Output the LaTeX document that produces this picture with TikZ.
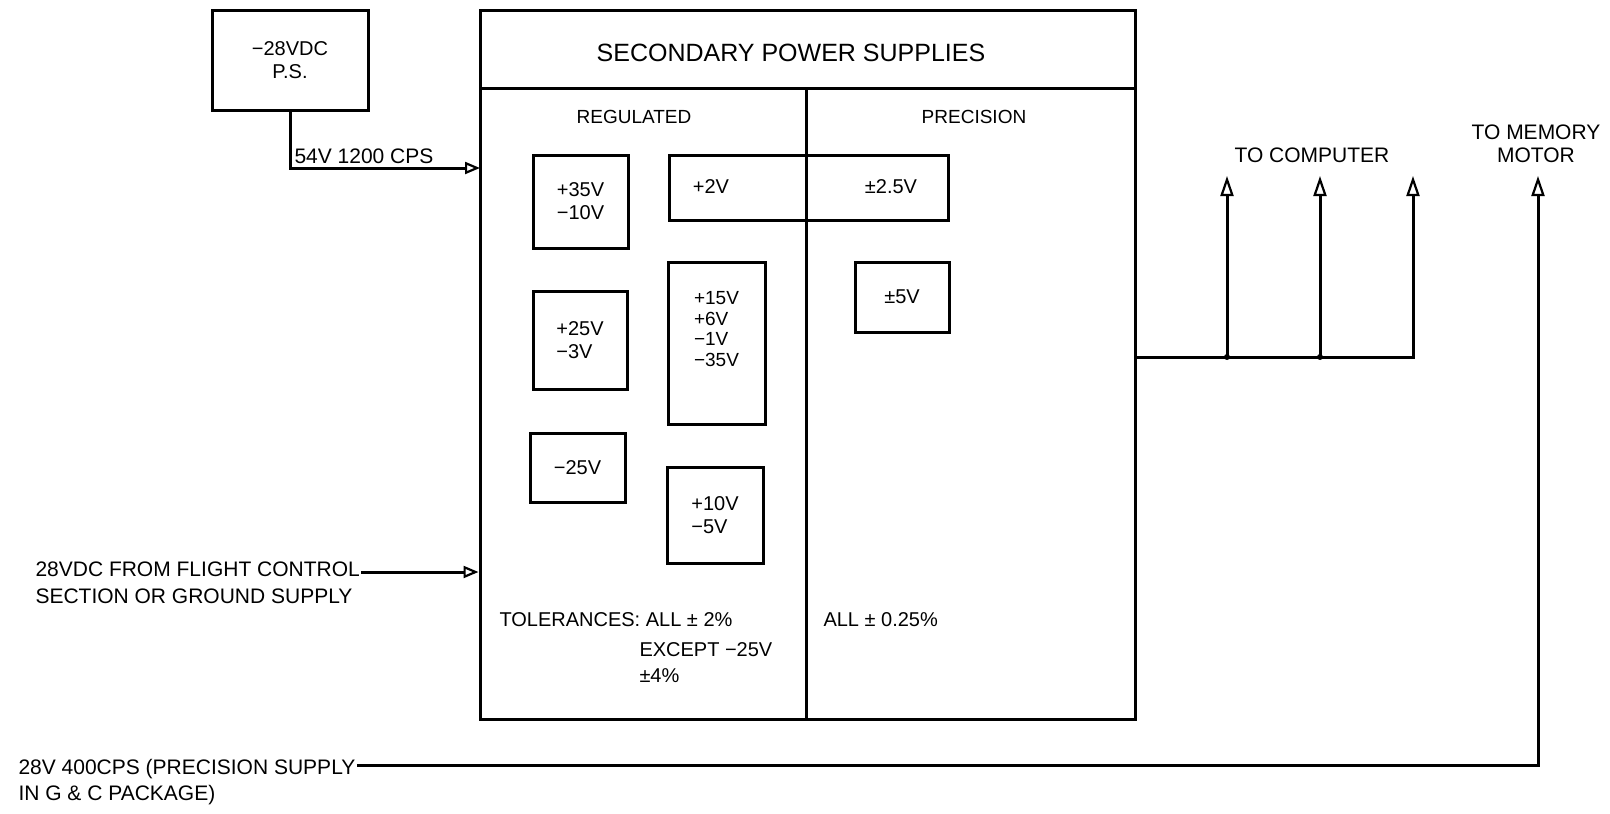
\documentclass[tikz,border=0pt]{standalone}
\usepackage{fontspec}
\setmainfont{Liberation Sans}
\usetikzlibrary{arrows.meta}
\begin{document}
\begin{tikzpicture}[x=1pt,y=-1pt,
  line width=3pt,
  box/.style={draw, line width=3pt, inner sep=0pt, align=left, font=\fontsize{20}{23}\selectfont},
  txt/.style={inner sep=0pt, font=\fontsize{20}{23}\selectfont},
  lbl/.style={inner sep=0pt, anchor=west, font=\fontsize{21}{21}\selectfont},
  arr/.style={-{Triangle[open,length=20pt,width=13pt,line width=2.2pt]}},
  arrs/.style={-{Triangle[open,length=15pt,width=12pt,line width=2.2pt]}}]
\useasboundingbox (0,0) rectangle (1610,814);
% main frame
\node[draw, inner sep=0pt, minimum width=655pt, minimum height=709pt] (main) at (807.5,364.5) {};
\draw (480,88) -- (1135,88);
\draw (806,88) -- (806,719);
\node[txt, font=\fontsize{25}{25}\selectfont] (title) at (791,53) {SECONDARY POWER SUPPLIES};
\node[txt, font=\fontsize{19}{19}\selectfont] (reg) at (634,117) {REGULATED};
\node[txt, font=\fontsize{19}{19}\selectfont] (prec) at (974,117) {PRECISION};
% supply boxes
\node[box, align=center, minimum width=156pt, minimum height=100pt] (ps) at (290,60) {−28VDC\\P.S.};
\node[box, minimum width=95pt, minimum height=93pt] (b35) at (580.5,201.5) {+35V\\−10V};
\node[box, minimum width=279pt, minimum height=65pt] (b2) at (808.5,187.5) {};
\node[txt] (t2v) at (711,187) {+2V};
\node[txt] (t25v) at (891,187) {±2.5V};
\node[box, minimum width=94pt, minimum height=70pt] (b5) at (902,297) {±5V};
\node[box, minimum width=94pt, minimum height=98pt] (b25) at (580,340) {+25V\\−3V};
\node[box, font=\fontsize{19}{20.5}\selectfont, minimum width=97pt, minimum height=162pt] (b15) at (716.5,343) {+15V\\+6V\\−1V\\−35V\\[8pt]};
\node[box, minimum width=95pt, minimum height=69pt] (bm25) at (577.5,467.5) {−25V};
\node[box, minimum width=96pt, minimum height=96pt] (b10) at (715,515) {+10V\\−5V};
% tolerances
\node[txt, anchor=west] (tol) at (498,620) {TOLERANCES: ALL ± 2\%};
\node[txt, anchor=west] (exc) at (638,650) {EXCEPT −25V};
\node[txt, anchor=west] (exc2) at (638,676) {±4\%};
\node[txt, anchor=west] (all) at (822,620) {ALL ± 0.25\%};
% inputs
\node[lbl] (l54) at (293,156) {54V 1200 CPS};
\coordinate (in1) at (480,168);
\draw[arrs] (ps.south) |- (in1);
\node[lbl] (l1) at (34,569) {28VDC FROM FLIGHT CONTROL};
\node[lbl] (l2) at (34,596) {SECTION OR GROUND SUPPLY};
\draw[arrs] ([yshift=-3pt]l1.east) -- ([yshift=-3pt]l1.east -| main.west);
\node[lbl] (l3) at (17,769) {28V 400CPS (PRECISION SUPPLY};
\node[lbl] (l4) at (17,795) {IN G \& C PACKAGE)};
% outputs
\coordinate (j1) at (1227,357);
\coordinate (j2) at (1320,357);
\coordinate (t1) at (1227,176);
\coordinate (t2) at (1320,176);
\coordinate (t3) at (1413,176);
\coordinate (tm) at (1538,176);
\draw[arr] (main.east |- j1) -| (t3);
\draw[arr] (j1) -- (t1);
\draw[arr] (j2) -- (t2);
\fill (j1) circle (3pt) (j2) circle (3pt);
\draw[arr] ([yshift=4pt]l3.east) -| (tm);
\node[lbl, anchor=center] (tc) at (1312,155) {TO COMPUTER};
\node[lbl, anchor=center] (tmm) at (1536,132) {TO MEMORY};
\node[lbl, anchor=center] (tmo) at (1536,155) {MOTOR};
\end{tikzpicture}
\end{document}
